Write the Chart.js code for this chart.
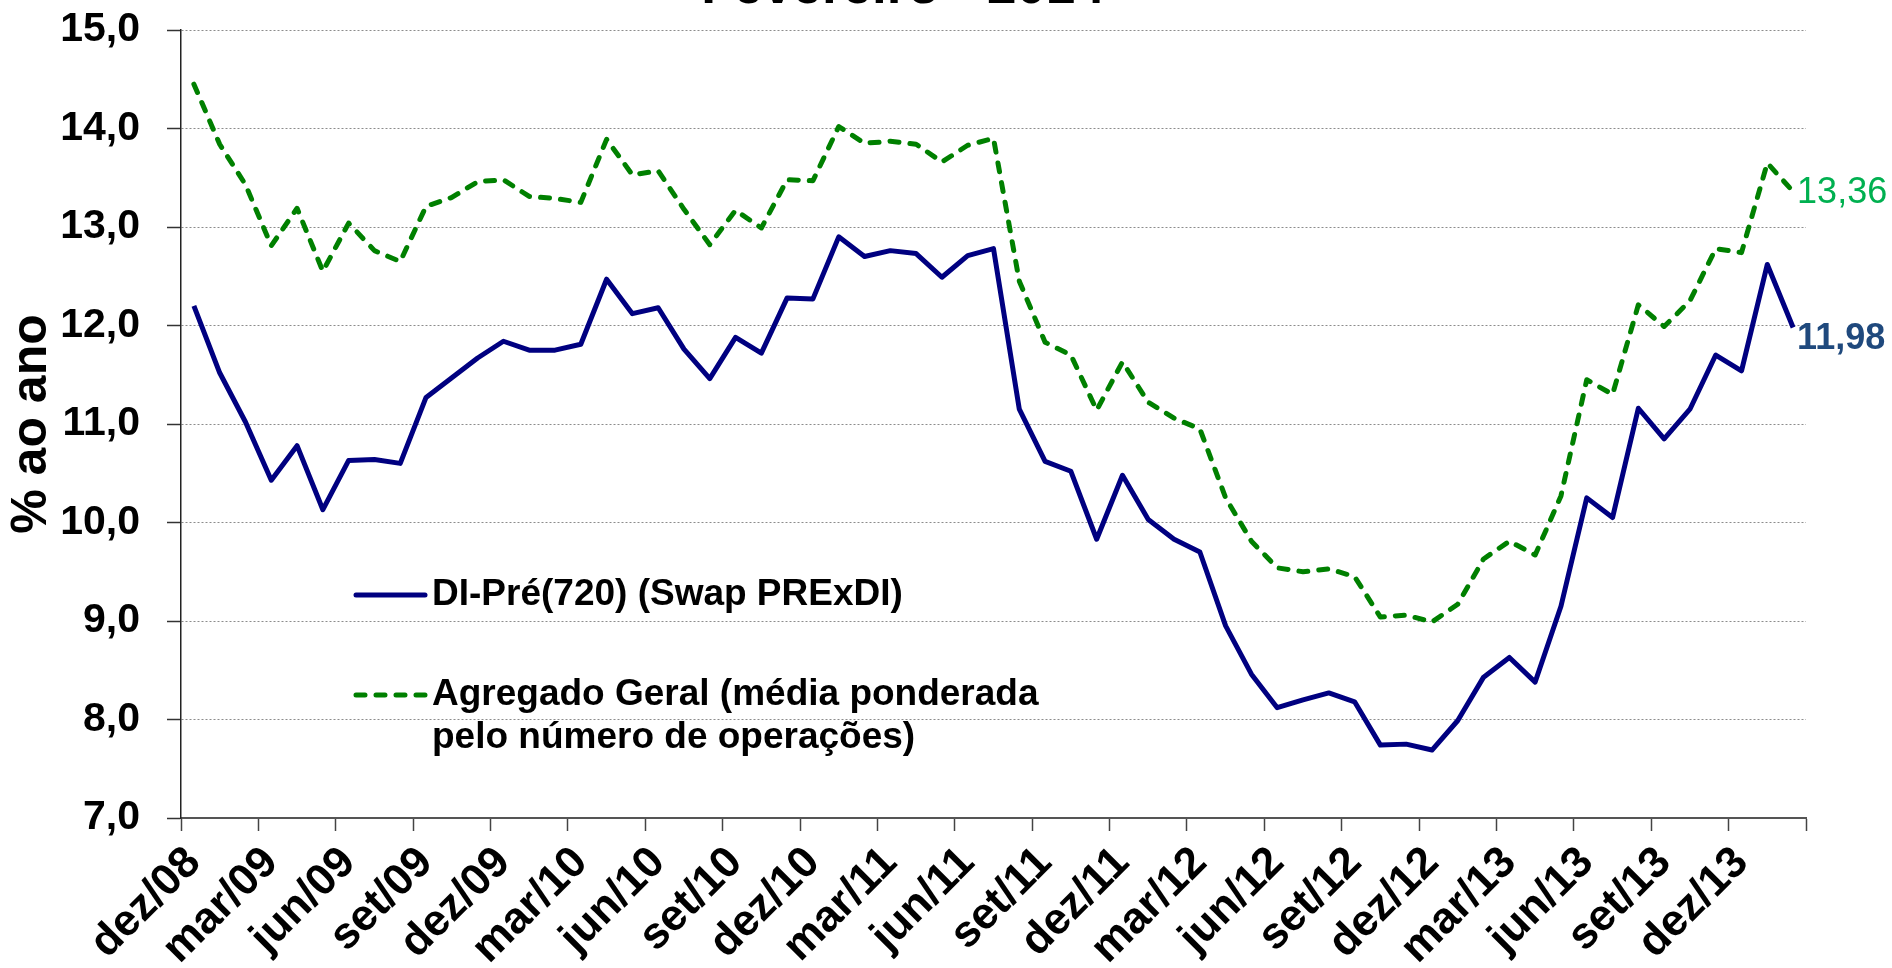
<!DOCTYPE html>
<html>
<head>
  <meta charset="utf-8">
  <style>
    html, body {
        margin: 0;
        padding: 0;
        background: #ffffff;
        overflow: hidden;
        width: 1892px;
        height: 968px;
    }
    #chart {
        position: absolute;
        left: 0;
        top: -38px;
    }
  </style>
</head>
<body>
  <canvas id="chart" width="1892" height="1006"></canvas>

  <script src="https://cdn.jsdelivr.net/npm/chart.js"></script>
  <script>
    // months dez/08 .. fev/14
    const meses = [
        'dez/08',
        'jan/09', 'fev/09', 'mar/09', 'abr/09', 'mai/09', 'jun/09', 'jul/09', 'ago/09', 'set/09', 'out/09', 'nov/09', 'dez/09',
        'jan/10', 'fev/10', 'mar/10', 'abr/10', 'mai/10', 'jun/10', 'jul/10', 'ago/10', 'set/10', 'out/10', 'nov/10', 'dez/10',
        'jan/11', 'fev/11', 'mar/11', 'abr/11', 'mai/11', 'jun/11', 'jul/11', 'ago/11', 'set/11', 'out/11', 'nov/11', 'dez/11',
        'jan/12', 'fev/12', 'mar/12', 'abr/12', 'mai/12', 'jun/12', 'jul/12', 'ago/12', 'set/12', 'out/12', 'nov/12', 'dez/12',
        'jan/13', 'fev/13', 'mar/13', 'abr/13', 'mai/13', 'jun/13', 'jul/13', 'ago/13', 'set/13', 'out/13', 'nov/13', 'dez/13',
        'jan/14', 'fev/14'
    ];

    const diPre = [
        12.20,
        11.52, 11.02, 10.43, 10.78, 10.13, 10.63, 10.64, 10.60, 11.27, 11.47, 11.67, 11.84,
        11.75, 11.75, 11.81, 12.47, 12.12, 12.18, 11.76, 11.46, 11.88, 11.72, 12.28, 12.27,
        12.90, 12.70, 12.76, 12.73, 12.49, 12.71, 12.78, 11.15, 10.62, 10.52, 9.83, 10.48,
        10.03, 9.83, 9.70, 8.95, 8.46, 8.12, 8.20, 8.27, 8.18, 7.74, 7.75, 7.69,
        7.99, 8.43, 8.63, 8.38, 9.15, 10.25, 10.05, 11.16, 10.85, 11.15, 11.70, 11.54,
        12.62, 11.98
    ];

    const agregado = [
        14.45,
        13.84, 13.43, 12.81, 13.19, 12.55, 13.04, 12.76, 12.65, 13.21, 13.30, 13.46, 13.48,
        13.31, 13.29, 13.25, 13.89, 13.53, 13.57, 13.18, 12.82, 13.17, 12.99, 13.48, 13.47,
        14.02, 13.85, 13.87, 13.84, 13.66, 13.83, 13.90, 12.45, 11.83, 11.70, 11.14, 11.63,
        11.22, 11.06, 10.95, 10.25, 9.81, 9.54, 9.50, 9.53, 9.45, 9.04, 9.06, 8.99,
        9.17, 9.63, 9.81, 9.67, 10.27, 11.45, 11.30, 12.21, 11.99, 12.25, 12.78, 12.74,
        13.65, 13.36
    ];

    const titulo = 'Fevereiro - 2014';
    const eixoY = '% ao ano';
    const legendaDI = ['DI-Pré(720) (Swap PRExDI)'];
    const legendaAgregado = ['Agregado Geral (média ponderada', 'pelo número de operações)'];

    const navy = '#000080';
    const green = '#008000';
    const fontFamily = "'Liberation Sans', Arial, sans-serif";

    const fmt = (v, d) => v.toFixed(d).replace('.', ',');

    // last value written right of each line
    const lastValueLabels = {
        id: 'lastValueLabels',
        afterDatasetsDraw(chart) {
            const ctx = chart.ctx;
            const styles = [
                { font: 'bold 36px ' + fontFamily, color: '#1F497D', dy: 12 },
                { font: '36px ' + fontFamily, color: '#00B050', dy: 2 }
            ];
            chart.data.datasets.forEach((ds, i) => {
                const meta = chart.getDatasetMeta(i);
                const pt = meta.data[meta.data.length - 1];
                const st = styles[i];
                ctx.save();
                ctx.font = st.font;
                ctx.fillStyle = st.color;
                ctx.textAlign = 'left';
                ctx.textBaseline = 'middle';
                ctx.fillText(fmt(ds.data[ds.data.length - 1], 2), pt.x + 4, pt.y + st.dy);
                ctx.restore();
            });
        }
    };

    // legend sits inside the plot, lower left
    const insideLegend = {
        id: 'insideLegend',
        afterDraw(chart) {
            const ctx = chart.ctx;
            const a = chart.chartArea;
            const x0 = a.left + 175, x1 = a.left + 244, tx = a.left + 251;
            const items = [
                { lines: legendaDI, color: navy, dash: [], y: a.top + 565 },
                { lines: legendaAgregado, color: green, dash: [9, 11], y: a.top + 665 }
            ];
            ctx.save();
            items.forEach(it => {
                ctx.beginPath();
                ctx.setLineDash(it.dash);
                ctx.lineWidth = 5;
                ctx.lineCap = 'round';
                ctx.strokeStyle = it.color;
                ctx.moveTo(x0, it.y);
                ctx.lineTo(x1, it.y);
                ctx.stroke();
                ctx.setLineDash([]);
                ctx.font = 'bold 37px ' + fontFamily;
                ctx.fillStyle = '#000';
                ctx.textAlign = 'left';
                ctx.textBaseline = 'middle';
                it.lines.forEach((t, k) => ctx.fillText(t, tx, it.y + k * 43));
            });
            ctx.restore();
        }
    };

    new Chart(document.getElementById('chart'), {
        type: 'line',
        data: {
            labels: meses,
            datasets: [
                {
                    label: legendaDI.join(' '),
                    data: diPre,
                    borderColor: navy,
                    borderWidth: 5,
                    pointRadius: 0,
                    tension: 0,
                    borderJoinStyle: 'round'
                },
                {
                    label: legendaAgregado.join(' '),
                    data: agregado,
                    borderColor: green,
                    borderWidth: 5,
                    borderDash: [9, 11],
                    borderCapStyle: 'round',
                    borderJoinStyle: 'round',
                    pointRadius: 0,
                    tension: 0
                }
            ]
        },
        options: {
            responsive: false,
            animation: false,
            devicePixelRatio: 1,
            layout: {
                padding: { top: 0, left: 0, right: 86, bottom: 0 }
            },
            scales: {
                x: {
                    offset: true,
                    afterFit: (scale) => { scale.height = 150; },
                    grid: {
                        offset: true,
                        drawOnChartArea: false,
                        drawTicks: true,
                        tickLength: 13,
                        tickWidth: 1.5,
                        tickColor: (c) => (c.index === undefined || c.index % 3 === 0) ? '#444444' : 'rgba(0,0,0,0)'
                    },
                    border: { display: true, color: '#555555', width: 2 },
                    ticks: {
                        autoSkip: false,
                        maxRotation: 45,
                        minRotation: 45,
                        padding: 6,
                        color: '#000',
                        font: { family: fontFamily, size: 44, weight: 'bold' },
                        callback: (v, i) => i % 3 === 0 ? meses[i] : ''
                    }
                },
                y: {
                    min: 7,
                    max: 15,
                    afterFit: (scale) => { scale.width = 181; },
                    grid: {
                        color: '#8c8c8c',
                        lineWidth: 1,
                        tickLength: 14,
                        tickColor: '#333333',
                        tickWidth: 1.5
                    },
                    border: { display: true, color: '#222', width: 1.5, dash: [2, 2] },
                    ticks: {
                        stepSize: 1,
                        padding: 27,
                        color: '#000',
                        font: { family: fontFamily, size: 41, weight: 'bold' },
                        callback: (v) => fmt(v, 1)
                    },
                    title: {
                        display: true,
                        text: eixoY,
                        color: '#000',
                        font: { family: fontFamily, size: 50, weight: 'bold', lineHeight: 1 },
                        padding: { top: 7, bottom: 0 }
                    }
                }
            },
            plugins: {
                legend: { display: false },
                tooltip: { enabled: false },
                title: {
                    display: true,
                    text: titulo,
                    color: '#000',
                    font: { family: fontFamily, size: 53, weight: 'bold', lineHeight: 1 },
                    padding: { top: 0, bottom: 15 }
                }
            }
        },
        plugins: [lastValueLabels, insideLegend]
    });
  </script>
</body>
</html>
